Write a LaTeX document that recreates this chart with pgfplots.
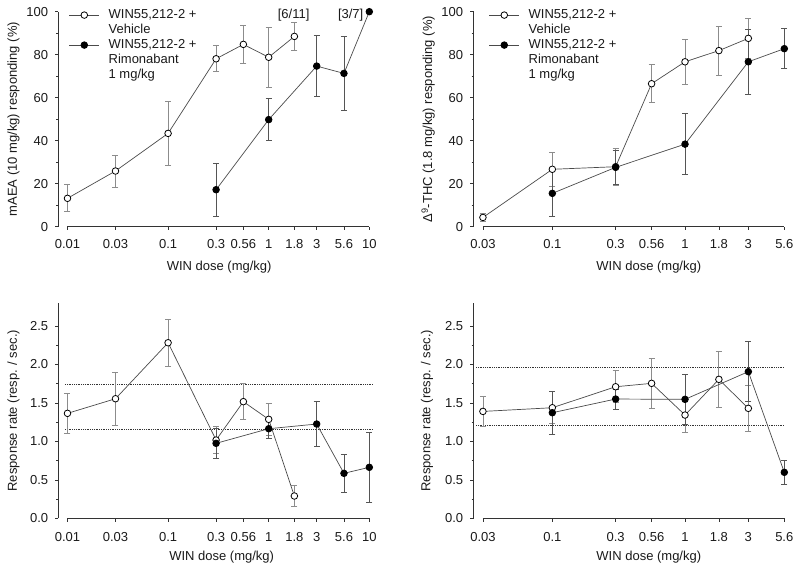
\documentclass[border=0pt]{standalone}
\usepackage{pgfplots}
\pgfplotsset{compat=1.18}
\usepackage{fontspec}
\setmainfont{Liberation Sans}
\definecolor{axc}{HTML}{333333}
\definecolor{lnc}{HTML}{4A4A4A}
\definecolor{evc}{HTML}{8C8C8C}
\definecolor{erc}{HTML}{555555}
\definecolor{txc}{HTML}{1A1A1A}
\newcommand{\zzf}{\fontsize{13bp}{15bp}\selectfont}
\pgfplotsset{
  zzveh/.style={lnc, line width=0.7bp, mark=*, mark size=3.3bp, mark options={draw=black, fill=white, line width=0.8bp}},
  zzrim/.style={lnc, line width=0.7bp, mark=*, mark size=3.3bp, mark options={draw=black, fill=black, line width=0.8bp}},
  zzeverr/.style={forget plot, only marks, mark=*, mark size=0.01bp, mark options={draw=evc, fill=evc},
    error bars/y dir=both, error bars/y explicit,
    error bars/error bar style={draw=evc, line width=0.8bp},
    error bars/error mark options={rotate=90, draw=evc, line width=0.8bp, mark size=3bp}},
  zzrmerr/.style={forget plot, only marks, mark=*, mark size=0.01bp, mark options={draw=erc, fill=erc},
    error bars/y dir=both, error bars/y explicit,
    error bars/error bar style={draw=erc, line width=0.8bp},
    error bars/error mark options={rotate=90, draw=erc, line width=0.8bp, mark size=3bp}},
  zzdots/.style={forget plot, axc, line width=0.8bp, densely dotted},
}
\begin{document}
\zzf
\begin{tikzpicture}
\useasboundingbox (0,0) rectangle (800bp,569bp);

% ---------- top left ----------
\begin{axis}[xmode=log,
  scale only axis, clip=false, anchor=south west, at={(58.5bp,342.3bp)},
  width=310.8bp, height=215bp,
  xmin=0.00814, xmax=10, ymin=0, ymax=100,
  xtick={0.01,0.03,0.1,0.3,0.56,1,1.8,3,5.6,10},
  xticklabels={0.01,0.03,0.1,0.3,0.56,1,1.8,3,5.6,10},
  ytick={0,20,40,60,80,100}, minor y tick num=1,
  axis x line*=bottom, axis y line*=left,
  x axis line style={draw=none},
  y axis line style={-, draw=axc, line width=0.7bp},
  tick align=outside, major tick length=3.3bp, minor tick length=2bp,
  tick style={axc, line width=0.7bp},
  /pgf/number format/assume math mode=true,
  xticklabel style={font=\zzf, text=txc, yshift=-5bp},
  yticklabel style={font=\zzf, text=txc, xshift=-2.5bp},
  xlabel={WIN dose (mg/kg)},
  ylabel={mAEA (10 mg/kg) responding (\%)},
  xlabel style={font=\zzf, text=txc, at={(axis description cs:0.517,0)}, anchor=center, yshift=-40bp},
  ylabel style={font=\zzf, text=txc, at={(axis description cs:-0.1448,0.5)}, anchor=center},
  legend style={at={(axis description cs:0.033,1.02)}, draw=none, fill=none, anchor=north west, inner sep=0pt,
      row sep=0pt, column sep=6bp, font=\zzf, text=txc,
      nodes={inner xsep=3bp, inner ysep=1bp, text height=10bp, text depth=3bp}},
  legend cell align=left,
  legend image code/.code={\draw[mark repeat=2,mark phase=2,#1] plot coordinates {(0bp,0bp) (15bp,0bp) (30bp,0bp)};}]
\draw[axc, line width=0.7bp] (axis cs:0.01,0) -- (axis cs:10,0);
\addplot[zzeverr] coordinates {(0.01,13.2) +- (0,6.3) (0.03,25.9) +- (0,7.4) (0.1,43.4) +- (0,14.9)
  (0.3,78.1) +- (0,6.1) (0.56,84.8) +- (0,8.8) (1,78.8) +- (0,14) (1.8,88.5) +- (0,6.6)};
\addplot[zzrmerr] coordinates {(0.3,17.2) +- (0,12.2) (1,49.8) +- (0,9.8) (3,74.7) +- (0,14.3) (5.6,71.3) +- (0,17.3)};
\addplot[zzveh] coordinates {(0.01,13.2) (0.03,25.9) (0.1,43.4) (0.3,78.1) (0.56,84.8) (1,78.8) (1.8,88.5)};
\addlegendentry{WIN55,212-2 +}
\addlegendimage{empty legend}\addlegendentry{Vehicle}
\addplot[zzrim] coordinates {(0.3,17.2) (1,49.8) (3,74.7) (5.6,71.3) (10,100)};
\addlegendentry{WIN55,212-2 +}
\addlegendimage{empty legend}\addlegendentry{Rimonabant}
\addlegendimage{empty legend}\addlegendentry{1 mg/kg}
\node[font=\zzf, text=txc] at (axis cs:1.77,98.5) {[6/11]};
\node[font=\zzf, text=txc] at (axis cs:6.53,98.5) {[3/7]};
\end{axis}

% ---------- top right ----------
\begin{axis}[xmode=log,
  scale only axis, clip=false, anchor=south west, at={(473.5bp,342.3bp)},
  width=310.8bp, height=215bp,
  xmin=0.02547, xmax=5.6, ymin=0, ymax=100,
  xtick={0.03,0.1,0.3,0.56,1,1.8,3,5.6},
  xticklabels={0.03,0.1,0.3,0.56,1,1.8,3,5.6},
  ytick={0,20,40,60,80,100}, minor y tick num=1,
  axis x line*=bottom, axis y line*=left,
  x axis line style={draw=none},
  y axis line style={-, draw=axc, line width=0.7bp},
  tick align=outside, major tick length=3.3bp, minor tick length=2bp,
  tick style={axc, line width=0.7bp},
  /pgf/number format/assume math mode=true,
  xticklabel style={font=\zzf, text=txc, yshift=-5bp},
  yticklabel style={font=\zzf, text=txc, xshift=-2.5bp},
  xlabel={WIN dose (mg/kg)},
  ylabel={Δ\textsuperscript{9}-THC (1.8 mg/kg) responding (\%)},
  xlabel style={font=\zzf, text=txc, at={(axis description cs:0.564,0)}, anchor=center, yshift=-40bp},
  ylabel style={font=\zzf, text=txc, at={(axis description cs:-0.146,0.5)}, anchor=center},
  legend style={at={(axis description cs:0.049,1.02)}, draw=none, fill=none, anchor=north west, inner sep=0pt,
      row sep=0pt, column sep=6bp, font=\zzf, text=txc,
      nodes={inner xsep=3bp, inner ysep=1bp, text height=10bp, text depth=3bp}},
  legend cell align=left,
  legend image code/.code={\draw[mark repeat=2,mark phase=2,#1] plot coordinates {(0bp,0bp) (15bp,0bp) (30bp,0bp)};}]
\draw[axc, line width=0.7bp] (axis cs:0.03,0) -- (axis cs:5.6,0);
\addplot[zzeverr] coordinates {(0.03,4.3) +- (0,1.8) (0.1,26.7) +- (0,8) (0.3,27.9) +- (0,8.5)
  (0.56,66.5) +- (0,8.8) (1,76.7) +- (0,10.6) (1.8,81.9) +- (0,11.3) (3,87.6) +- (0,9.3)};
\addplot[zzrmerr] coordinates {(0.1,15.5) +- (0,10.8) (0.3,27.6) +- (0,8) (1,38.4) +- (0,14.3) (3,76.7) +- (0,15) (5.6,82.8) +- (0,9.3)};
\addplot[zzveh] coordinates {(0.03,4.3) (0.1,26.7) (0.3,27.9) (0.56,66.5) (1,76.7) (1.8,81.9) (3,87.6)};
\addlegendentry{WIN55,212-2 +}
\addlegendimage{empty legend}\addlegendentry{Vehicle}
\addplot[zzrim] coordinates {(0.1,15.5) (0.3,27.6) (1,38.4) (3,76.7) (5.6,82.8)};
\addlegendentry{WIN55,212-2 +}
\addlegendimage{empty legend}\addlegendentry{Rimonabant}
\addlegendimage{empty legend}\addlegendentry{1 mg/kg}
\end{axis}

% ---------- bottom left ----------
\begin{axis}[xmode=log,
  scale only axis, clip=false, anchor=south west, at={(58.5bp,50.7bp)},
  width=310.8bp, height=215.3bp,
  xmin=0.00814, xmax=10, ymin=0, ymax=2.8,
  xtick={0.01,0.03,0.1,0.3,0.56,1,1.8,3,5.6,10},
  xticklabels={0.01,0.03,0.1,0.3,0.56,1,1.8,3,5.6,10},
  ytick={0,0.5,1,1.5,2,2.5}, minor y tick num=1,
  axis x line*=bottom, axis y line*=left,
  x axis line style={draw=none},
  y axis line style={-, draw=axc, line width=0.7bp},
  tick align=outside, major tick length=3.3bp, minor tick length=2bp,
  tick style={axc, line width=0.7bp},
  /pgf/number format/assume math mode=true,
  xticklabel style={font=\zzf, text=txc, yshift=-6bp},
  yticklabel style={font=\zzf, text=txc, xshift=-2.5bp, /pgf/number format/fixed, /pgf/number format/fixed zerofill, /pgf/number format/precision=1},
  xlabel={WIN dose (mg/kg)},
  ylabel={Response rate (resp. / sec.)},
  xlabel style={font=\zzf, text=txc, at={(axis description cs:0.525,0)}, anchor=center, yshift=-38.4bp},
  ylabel style={font=\zzf, text=txc, at={(axis description cs:-0.1448,0.5)}, anchor=center}]
\draw[axc, line width=0.7bp] (axis cs:0.01,0) -- (axis cs:10,0);
\addplot[zzdots] coordinates {(0.00944,1.742) (10.8,1.742)};
\addplot[zzdots] coordinates {(0.00944,1.157) (10.8,1.157)};
\addplot[zzeverr] coordinates {(0.01,1.365) +- (0,0.255) (0.03,1.555) +- (0,0.345) (0.1,2.283) +- (0,0.305)
  (0.3,1.018) +- (0,0.175) (0.56,1.517) +- (0,0.237) (1,1.287) +- (0,0.21) (1.8,0.29) +- (0,0.14)};
\addplot[zzrmerr] coordinates {(0.3,0.975) +- (0,0.195) (1,1.165) +- (0,0.125) (3,1.226) +- (0,0.29)
  (5.6,0.585) +- (0,0.245) (10,0.663) +- (0,0.453)};
\addplot[zzveh] coordinates {(0.01,1.365) (0.03,1.555) (0.1,2.283) (0.3,1.018) (0.56,1.517) (1,1.287) (1.8,0.29)};
\addplot[zzrim] coordinates {(0.3,0.975) (1,1.165) (3,1.226) (5.6,0.585) (10,0.663)};
\end{axis}

% ---------- bottom right ----------
\begin{axis}[xmode=log,
  scale only axis, clip=false, anchor=south west, at={(473.5bp,50.7bp)},
  width=310.8bp, height=215.3bp,
  xmin=0.02547, xmax=5.6, ymin=0, ymax=2.8,
  xtick={0.03,0.1,0.3,0.56,1,1.8,3,5.6},
  xticklabels={0.03,0.1,0.3,0.56,1,1.8,3,5.6},
  ytick={0,0.5,1,1.5,2,2.5}, minor y tick num=1,
  axis x line*=bottom, axis y line*=left,
  x axis line style={draw=none},
  y axis line style={-, draw=axc, line width=0.7bp},
  tick align=outside, major tick length=3.3bp, minor tick length=2bp,
  tick style={axc, line width=0.7bp},
  /pgf/number format/assume math mode=true,
  xticklabel style={font=\zzf, text=txc, yshift=-6bp},
  yticklabel style={font=\zzf, text=txc, xshift=-2.5bp, /pgf/number format/fixed, /pgf/number format/fixed zerofill, /pgf/number format/precision=1},
  xlabel={WIN dose (mg/kg)},
  ylabel={Response rate (resp. / sec.)},
  xlabel style={font=\zzf, text=txc, at={(axis description cs:0.564,0)}, anchor=center, yshift=-38.4bp},
  ylabel style={font=\zzf, text=txc, at={(axis description cs:-0.1496,0.5)}, anchor=center}]
\draw[axc, line width=0.7bp] (axis cs:0.03,0) -- (axis cs:5.6,0);
\addplot[zzdots] coordinates {(0.0266,1.965) (5.52,1.965)};
\addplot[zzdots] coordinates {(0.0266,1.207) (5.52,1.207)};
\addplot[zzeverr] coordinates {(0.03,1.39) +- (0,0.19) (0.1,1.438) +- (0,0.21) (0.3,1.711) +- (0,0.21)
  (0.56,1.755) +- (0,0.32) (1,1.343) +- (0,0.22) (1.8,1.807) +- (0,0.37) (3,1.43) +- (0,0.30)};
\addplot[zzrmerr] coordinates {(0.1,1.373) +- (0,0.28) (0.3,1.551) +- (0,0.13) (1,1.547) +- (0,0.32)
  (3,1.907) +- (0,0.39) (5.6,0.598) +- (0,0.152)};
\addplot[zzveh] coordinates {(0.03,1.39) (0.1,1.438) (0.3,1.711) (0.56,1.755) (1,1.343) (1.8,1.807) (3,1.43)};
\addplot[zzrim] coordinates {(0.1,1.373) (0.3,1.551) (1,1.547) (3,1.907) (5.6,0.598)};
\end{axis}
\end{tikzpicture}
\end{document}
